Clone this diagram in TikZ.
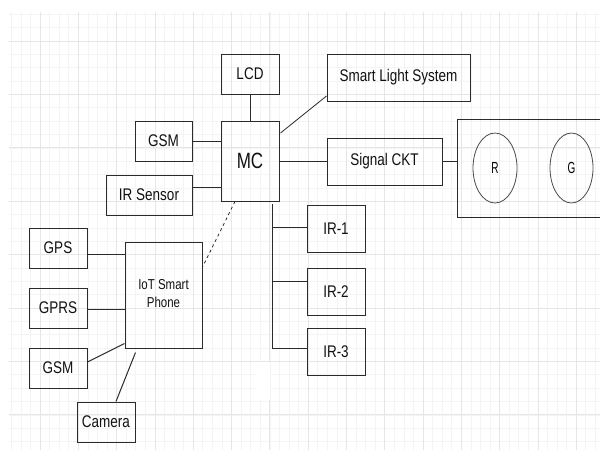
\documentclass[tikz,border=0pt]{standalone}
\usepackage{fontspec}
\setmainfont{Liberation Sans}
\usetikzlibrary{calc,shapes.geometric}
\definecolor{linec}{HTML}{2B2B2B}
\definecolor{textc}{HTML}{111111}
\definecolor{gridmaj}{HTML}{E6E6E6}
\definecolor{gridmin}{HTML}{F4F4F4}
\newcommand{\stretchtext}[2][1.25]{\scalebox{1}[#1]{#2}}
\begin{document}
\begin{tikzpicture}[x=1pt,y=-1pt,
  box/.style={draw=linec,line width=1pt,rectangle,inner sep=0pt,text=textc,
    font=\fontsize{13.5}{16}\selectfont},
  lamp/.style={draw=linec!85,line width=0.8pt,ellipse,inner sep=0pt,text=black,
    minimum width=44pt,minimum height=70pt,font=\fontsize{10}{12}\selectfont},
  conn/.style={draw=linec,line width=1pt},
  dconn/.style={draw=linec,line width=0.8pt,dash pattern=on 3pt off 3pt}]
\useasboundingbox (0,0) rectangle (600,450);
\fill[white] (0,0) rectangle (600,450);
% grid
\begin{scope}
\clip (9,12) rectangle (600,450);
\foreach \i in {-3,...,58} \draw[gridmin,line width=0.6pt] ({40+9.575*\i},12) -- ({40+9.575*\i},450);
\foreach \j in {-2,...,30} \draw[gridmin,line width=0.6pt] (9,{41+13.35*\j}) -- (600,{41+13.35*\j});
\foreach \i in {0,...,14} \draw[gridmaj,line width=0.8pt] ({40+38.3*\i},12) -- ({40+38.3*\i},450);
\foreach \j in {0,...,7} \draw[gridmaj,line width=0.8pt] (9,{41+53.4*\j}) -- (600,{41+53.4*\j});
\end{scope}
\fill[white] (256,362) rectangle (270,400);
% nodes
\node[box,minimum width=58pt,minimum height=40pt] (lcd) at (250,74) {\stretchtext{LCD}};
\node[box,minimum width=143pt,minimum height=47pt] (sls) at (398.5,77.5) {\stretchtext{Smart Light System}};
\node[box,minimum width=57pt,minimum height=40pt] (gsma) at (163.5,141) {\stretchtext{GSM}};
\node[box,minimum width=58pt,minimum height=80pt,font=\fontsize{17}{20}\selectfont] (mc) at (250,161) {\stretchtext[1.3]{MC}};
\node[box,minimum width=86pt,minimum height=40pt] (irs) at (149,195) {\stretchtext{IR Sensor}};
\node[box,minimum width=115pt,minimum height=47pt] (sig) at (384.5,161.5) {\stretchtext{Signal CKT}};
\node[box,minimum width=146pt,minimum height=98pt] (lights) at (530,168) {};
\node[lamp] (r) at (495,168) {\stretchtext[1.6]{R}};
\node[lamp,minimum width=43pt] (g) at (571.5,168) {\stretchtext[1.6]{G}};
\node[box,minimum width=58pt,minimum height=47pt] (ir1) at (336,228.5) {\stretchtext{IR-1}};
\node[box,minimum width=58pt,minimum height=47pt] (ir2) at (336,291.5) {\stretchtext{IR-2}};
\node[box,minimum width=58pt,minimum height=47pt] (ir3) at (336,351.5) {\stretchtext{IR-3}};
\node[box,minimum width=58pt,minimum height=40pt] (gps) at (58,248) {\stretchtext{GPS}};
\node[box,minimum width=58pt,minimum height=40pt] (gprs) at (58,308) {\stretchtext{GPRS}};
\node[box,minimum width=58pt,minimum height=40pt] (gsmb) at (58,368) {\stretchtext{GSM}};
\node[box,minimum width=58pt,minimum height=40pt] (cam) at (106,422) {\stretchtext{Camera}};
\node[box,minimum width=77pt,minimum height=106pt,font=\fontsize{11.5}{13.8}\selectfont] (phone) at (163.5,295)
  {\stretchtext{\begin{tabular}{@{}c@{}}IoT Smart\\Phone\end{tabular}}};
% connectors
\draw[conn] (lcd.south) -- (mc.north);
\draw[conn] (gsma.east) -- (gsma.east -| mc.west);
\coordinate (irsp) at ([yshift=8pt]irs.east);
\draw[conn] (irsp) -- (irsp -| mc.west);
\draw[conn] (mc.east) -- (mc.east -| sig.west);
\draw[conn] (sig.east) -- (sig.east -| lights.west);
\draw[conn,line width=0.8pt] ([xshift=1pt,yshift=28pt]mc.east) -- ([yshift=-18.5pt]sls.west);
\draw[dconn] ([xshift=-15pt]mc.south) -- ([yshift=28pt]phone.east);
\coordinate (bus) at ([xshift=-7pt,yshift=-2pt]mc.south east);
\coordinate (j1) at ([yshift=1.5pt]ir1.west);
\coordinate (j2) at ([yshift=10.5pt]ir2.west);
\coordinate (j3) at ([yshift=3.5pt]ir3.west);
\draw[conn] (bus) -- (bus |- j3) -- (j3);
\draw[conn] (bus |- j1) -- (j1);
\draw[conn] (bus |- j2) -- (j2);
\coordinate (p1) at ([yshift=-6pt]gps.east);
\draw[conn] (p1) -- (p1 -| phone.west);
\coordinate (p2) at ([yshift=-1pt]gprs.east);
\draw[conn] (p2) -- (p2 -| phone.west);
\draw[conn] ([yshift=6pt]gsmb.east) -- ([yshift=5pt]phone.south west);
\draw[conn] ([xshift=10pt]cam.north) -- ([xshift=11pt,yshift=-4pt]phone.south west);
\end{tikzpicture}
\end{document}
